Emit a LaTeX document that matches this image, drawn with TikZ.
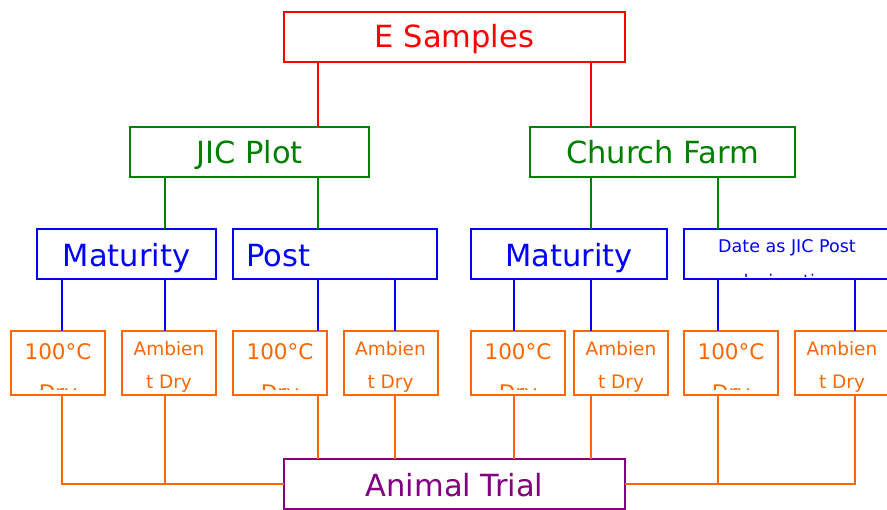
\documentclass[tikz,border=0pt]{standalone}
\usepackage{fontspec}
\setmainfont{DejaVu Sans}
\definecolor{cred}{RGB}{255,0,0}
\definecolor{cgreen}{RGB}{0,128,0}
\definecolor{cblue}{RGB}{0,0,255}
\definecolor{corange}{RGB}{255,102,0}
\definecolor{cpurple}{RGB}{128,0,128}
\begin{document}
\begin{tikzpicture}[x=1pt,y=-1pt,
  box/.style={draw, line width=2pt, inner sep=0pt, outer sep=0pt, minimum height=50pt},
  obox/.style={box, draw=corange, minimum width=94pt, minimum height=64pt},
  conn/.style={line width=2pt},
  big/.style={font=\fontsize{30.5}{36}\selectfont, inner sep=0pt, anchor=base},
  mid/.style={font=\fontsize{21.5}{26}\selectfont, inner sep=0pt, anchor=base, text=corange},
  sml/.style={font=\fontsize{18.5}{22}\selectfont, inner sep=0pt, anchor=base, text=corange},
  dsm/.style={font=\fontsize{17.5}{21}\selectfont, inner sep=0pt, anchor=base, text=cblue},
]
\useasboundingbox (0,0) rectangle (887,510);
\clip (0,0) rectangle (887,510);

% x positions of connectors
\foreach \v in {62,165,318,395,514,591,718,855} {\coordinate (x\v) at (\v,0);}

% boxes
\node[box, draw=cred, minimum width=341pt] (es) at (454.5,37) {};
\node[box, draw=cgreen, minimum width=239pt] (jic) at (249.5,152) {};
\node[box, draw=cgreen, minimum width=265pt] (cf) at (662.5,152) {};
\node[box, draw=cblue, minimum width=179pt] (m1) at (126.5,254) {};
\node[box, draw=cblue, minimum width=204pt] (po) at (335,254) {};
\node[box, draw=cblue, minimum width=196pt] (m2) at (569,254) {};
\node[box, draw=cblue, minimum width=206pt] (da) at (787,254) {};
\node[box, draw=cpurple, minimum width=341pt] (at) at (454.5,484) {};

% texts
\node[big, text=cred] (est) at (454.5,48) {E Samples};
\node[big, text=cgreen] (jict) at (249.5,164) {JIC Plot};
\node[big, text=cgreen] (cft) at (662.5,164) {Church Farm};
\node[big, text=cblue] (m1t) at (126.5,267) {Maturity};
\node[big, text=cblue, anchor=base west] (pot) at (246,267) {Post};
\node[big, text=cblue] (m2t) at (569,267) {Maturity};
\node[big, text=cpurple] (att) at (454.5,497) {Animal Trial};
\node[dsm] (dat1) at (787,253) {Date as JIC Post};
\begin{scope}
  \clip (684,230) rectangle (888,276.5);
  \node[dsm] (dat2) at (787,288) {desiccation};
\end{scope}

% orange boxes
\foreach \n/\x in {b1/58,b3/280,b5/518,b7/731} {
  \node[obox] (\n) at (\x,363) {};
  \node[mid] (\n-t1) at (\x,360) {100°C};
  \begin{scope}
    \clip (\x-46,332) rectangle (\x+46,389.5);
    \node[mid] (\n-t2) at (\x,401) {Dry};
  \end{scope}
}
\foreach \n/\x in {b2/169,b4/390.5,b6/621,b8/842} {
  \node[obox] (\n) at (\x,363) {};
  \node[sml] (\n-t1) at (\x,356) {Ambien};
  \begin{scope}
    \clip (\x-46,332) rectangle (\x+46,391.5);
    \node[sml] (\n-t2) at (\x,389) {t Dry};
  \end{scope}
}

% red connectors
\draw[conn, cred] (es.south -| x318) -- (jic.north -| x318);
\draw[conn, cred] (es.south -| x591) -- (cf.north -| x591);
% green connectors
\draw[conn, cgreen] (jic.south -| x165) -- (m1.north -| x165);
\draw[conn, cgreen] (jic.south -| x318) -- (po.north -| x318);
\draw[conn, cgreen] (cf.south -| x591) -- (m2.north -| x591);
\draw[conn, cgreen] (cf.south -| x718) -- (da.north -| x718);
% blue connectors
\draw[conn, cblue] (m1.south -| x62) -- (b1.north -| x62);
\draw[conn, cblue] (m1.south -| x165) -- (b2.north -| x165);
\draw[conn, cblue] (po.south -| x318) -- (b3.north -| x318);
\draw[conn, cblue] (po.south -| x395) -- (b4.north -| x395);
\draw[conn, cblue] (m2.south -| x514) -- (b5.north -| x514);
\draw[conn, cblue] (m2.south -| x591) -- (b6.north -| x591);
\draw[conn, cblue] (da.south -| x718) -- (b7.north -| x718);
\draw[conn, cblue] (da.south -| x855) -- (b8.north -| x855);
% orange connectors
\draw[conn, corange] (b1.south -| x62) |- (at.west);
\draw[conn, corange] (b2.south -| x165) -- (x165 |- at.west);
\draw[conn, corange] (b3.south -| x318) -- (at.north -| x318);
\draw[conn, corange] (b4.south -| x395) -- (at.north -| x395);
\draw[conn, corange] (b5.south -| x514) -- (at.north -| x514);
\draw[conn, corange] (b6.south -| x591) -- (at.north -| x591);
\draw[conn, corange] (b8.south -| x855) |- (at.east);
\draw[conn, corange] (b7.south -| x718) -- (x718 |- at.east);
\end{tikzpicture}
\end{document}
